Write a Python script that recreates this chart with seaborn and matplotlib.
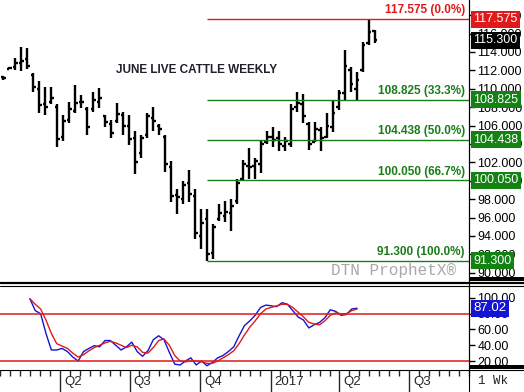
import numpy as np
import pandas as pd
import matplotlib.pyplot as plt
import matplotlib.dates as mdates
from matplotlib.lines import Line2D
from matplotlib.patches import Rectangle
import seaborn as sns

# weekly bars, June live cattle
week_start = "2016-02-15"
highs = [111.4, 112.4, 113.4, 114.5, 114.4, 111.7, 110.8, 110.2, 110.2, 108.3,
         107.2, 108.6, 110.4, 109.3, 108.0, 109.6, 110.1, 107.2, 106.6, 108.5,
         107.5, 107.2, 105.4, 105.0, 107.4, 108.0, 106.2, 105.0, 102.1, 99.1,
         100.0, 101.2, 99.1, 96.9, 96.9, 95.3, 97.5, 97.8, 98.0, 100.2,
         102.3, 103.6, 102.5, 104.3, 105.4, 105.8, 105.4, 104.8, 108.3, 109.7,
         109.4, 106.4, 106.4, 105.8, 107.4, 108.8, 109.9, 114.2, 112.4, 111.8,
         115.1, 117.575, 116.4]
lows = [111.0, 112.1, 112.0, 111.9, 112.2, 109.6, 107.4, 107.2, 108.4, 103.7,
        104.3, 106.3, 107.4, 107.9, 105.0, 107.5, 107.9, 105.9, 104.7, 106.3,
        105.0, 103.9, 100.7, 102.5, 104.7, 105.4, 105.0, 101.0, 97.7, 96.4,
        97.5, 97.7, 93.7, 92.6, 91.3, 91.5, 95.6, 95.5, 94.5, 97.5,
        100.0, 100.2, 100.2, 100.9, 104.0, 103.7, 103.2, 103.2, 103.7, 107.5,
        106.3, 103.4, 104.2, 103.2, 104.7, 105.3, 107.7, 108.8, 109.6, 108.8,
        111.8, 114.8, 115.0]
opens = [111.3, 112.2, 112.4, 112.8, 113.2, 111.5, 110.0, 108.4, 108.6, 108.0,
         104.8, 106.6, 107.6, 108.6, 107.8, 107.8, 108.6, 107.0, 106.2, 106.5,
         107.2, 106.0, 104.6, 103.0, 105.0, 106.8, 106.0, 104.8, 101.5, 98.5,
         98.0, 99.8, 98.4, 94.0, 95.8, 92.2, 95.8, 96.2, 96.5, 97.8,
         100.2, 101.6, 101.6, 101.8, 104.2, 104.8, 104.6, 103.8, 104.0, 108.0,
         108.4, 106.2, 104.2, 105.5, 104.8, 105.8, 108.0, 109.5, 112.0, 110.0,
         112.0, 115.0, 116.3]
closes = [111.2, 112.3, 112.8, 113.0, 112.5, 110.2, 108.2, 108.0, 109.0, 104.5,
          106.5, 107.8, 108.5, 108.6, 105.8, 108.8, 109.0, 106.4, 105.2, 107.3,
          106.0, 104.5, 102.0, 104.6, 107.0, 106.5, 105.6, 101.8, 98.4, 98.2,
          99.5, 98.6, 94.3, 95.4, 92.0, 95.0, 96.5, 96.6, 97.3, 99.8,
          101.8, 101.5, 102.2, 104.0, 104.8, 104.4, 104.0, 104.3, 107.8, 108.5,
          107.0, 104.0, 105.6, 104.6, 106.0, 107.4, 109.5, 112.5, 110.5, 111.0,
          114.8, 116.2, 115.3]

# stochastic %K (blue) and %D (red), first week has none
stoch_k = [np.nan, 99, 84, 80, 55, 34, 34, 36, 32, 25,
           20, 32, 36, 39.5, 38, 46, 46, 40, 34, 38,
           44, 32, 26, 33, 47, 52, 47, 31, 16, 15,
           20, 24, 15, 20, 14, 18, 24, 27, 32, 38,
           52, 65, 71, 78, 88, 91, 90, 89, 94, 92,
           84, 76, 72, 62, 66, 69, 75, 85, 83, 78,
           79, 86, 87.02]
stoch_d = [np.nan, 99, 92, 86, 72, 55, 42, 39, 36, 30,
           25, 28, 33, 37, 40, 43, 45, 43, 40, 37,
           40, 38, 31, 30, 37, 46, 48, 40, 27, 20,
           19, 20, 20, 19, 17, 17, 20, 24, 28, 33,
           42, 53, 63, 71, 80, 86, 88, 90, 92, 92,
           88, 82, 76, 69, 67, 66, 71, 78, 81, 80,
           80, 84, 86]

fib_levels = [117.575, 108.825, 104.438, 100.050, 91.300]
fib_pcts = ["0.0%", "33.3%", "50.0%", "66.7%", "100.0%"]
last_close = 115.300
last_stoch = 87.02

quarter_dates = ["2016-04-01", "2016-07-01", "2016-10-01", "2017-01-01", "2017-04-01", "2017-07-01"]
quarter_labels = ["Q2", "Q3", "Q4", "2017", "Q2", "Q3"]

sns.set_style("white")
plt.rcParams['font.family'] = ['Liberation Sans', 'DejaVu Sans']

RED = "#e01a1a"
GREEN = "#1a7d1a"
BOX_GREEN = "#138213"
BLUE = "#1414d2"

W, H = 524, 392
fig = plt.figure(figsize=(W / 100, H / 100), dpi=100)
ax1 = fig.add_axes([0, 1 - 282 / H, 469 / W, 282 / H])
ax2 = fig.add_axes([0, 1 - 370 / H, 469 / W, 84 / H])

dates = pd.date_range(week_start, periods=len(highs), freq="7D")
x = mdates.date2num(dates)
x_left = mdates.date2num(pd.Timestamp("2016-02-11"))
x_right = mdates.date2num(pd.Timestamp("2017-08-12"))

# ---- price panel
ax1.vlines(x, lows, highs, color="black", lw=1.7)
ax1.hlines(opens, x - 3, x, color="black", lw=1.7)
ax1.hlines(closes, x, x + 3, color="black", lw=1.7)

low_x = x[int(np.argmin(lows))]
fib_cols = [RED] + [GREEN] * 4
box_cols = [RED] + [BOX_GREEN] * 4
ax1.hlines(fib_levels, low_x, x_right, colors=fib_cols, lw=1)
for lvl, pct, c, bc in zip(fib_levels, fib_pcts, fib_cols, box_cols):
    ax1.annotate("%.3f (%s)" % (lvl, pct), xy=(1, lvl), xycoords=("axes fraction", "data"),
                 xytext=(-3, 2), textcoords="offset points", ha="right", va="bottom",
                 color=c, fontsize=8.5, fontweight="bold", zorder=6)
    ax1.annotate("%.3f" % lvl, xy=(1, lvl), xycoords=("axes fraction", "data"),
                 xytext=(3, 0), textcoords="offset points", ha="left", va="center",
                 color="white", fontsize=9, annotation_clip=False, zorder=6,
                 bbox=dict(boxstyle="square,pad=0.2", fc=bc, ec="none"))
ax1.annotate("%.3f" % last_close, xy=(1, last_close), xycoords=("axes fraction", "data"),
             xytext=(3, 0), textcoords="offset points", ha="left", va="center",
             color="white", fontsize=9, annotation_clip=False, zorder=6,
             bbox=dict(boxstyle="square,pad=0.2", fc="black", ec="none"))

ax1.text(0.247, 0.752, "JUNE LIVE CATTLE WEEKLY", transform=ax1.transAxes,
         fontsize=8.5, fontweight="bold", color="#20202c", va="center")
ax1.text(0.972, 0.04, "DTN ProphetX\u00ae", transform=ax1.transAxes, ha="right", va="center",
         fontsize=11.5, family="Liberation Mono", color="#a8a8a8")

ax1.set_xlim(x_left, x_right)
ax1.set_ylim(89.0, 119.65)
ax1.set_yticks(np.arange(90, 119, 2))
ax1.yaxis.set_major_formatter(plt.FormatStrFormatter("%.3f"))
ax1.yaxis.tick_right()
ax1.tick_params(axis="y", direction="out", length=4, width=1, pad=2, labelsize=9, colors="black")
ax1.set_xticks([])
for s in ["top", "left", "bottom"]:
    ax1.spines[s].set_visible(False)
ax1.spines["right"].set_color("black")

# ---- stochastic panel
sns.lineplot(x=x, y=stoch_k, ax=ax2, color=BLUE, lw=1)
sns.lineplot(x=x, y=stoch_d, ax=ax2, color=RED, lw=1)
ax2.axhline(80, color=RED, lw=1.1)
ax2.axhline(20, color=RED, lw=1.1)
ax2.annotate("%.2f" % last_stoch, xy=(1, last_stoch), xycoords=("axes fraction", "data"),
             xytext=(3, 0), textcoords="offset points", ha="left", va="center",
             color="white", fontsize=9.5, annotation_clip=False, zorder=6,
             bbox=dict(boxstyle="square,pad=0.2", fc=BLUE, ec="none"))

ax2.set_xlim(x_left, x_right)
ax2.set_ylim(8.6, 115.2)
ax2.set_yticks([20, 40, 60, 80, 100])
ax2.yaxis.set_major_formatter(plt.FormatStrFormatter("%.2f"))
ax2.yaxis.tick_right()
ax2.tick_params(axis="y", direction="out", length=4, width=1, pad=2, labelsize=9, colors="black")

q_x = mdates.date2num(pd.to_datetime(quarter_dates))
minor = []
for q in mdates.date2num(pd.to_datetime(["2016-01-01"] + quarter_dates)):
    minor += [q + 13 * k for k in range(1, 7)]
ax2.set_xticks(q_x)
ax2.set_xticklabels([])
ax2.set_xticks(minor, minor=True)
ax2.tick_params(axis="x", which="major", direction="out", length=17, width=1, bottom=True)
ax2.tick_params(axis="x", which="minor", direction="out", length=4, width=1, bottom=True)
for qx, lab in zip(q_x, quarter_labels):
    ax2.annotate(lab, xy=(qx, 0), xycoords=("data", "axes fraction"), xytext=(3, -4),
                 textcoords="offset points", ha="left", va="top", fontsize=9.5,
                 annotation_clip=False)
ax2.set_xlabel("")
ax2.set_ylabel("")
for s in ["top", "left", "bottom"]:
    ax2.spines[s].set_visible(False)
ax2.spines["right"].set_color("black")

# frame pieces of the chart window
def fy(py):
    return 1 - py / H

fig.add_artist(Line2D([0, 1], [fy(282.5), fy(282.5)], color="black", lw=1.6))
fig.add_artist(Line2D([0, 1], [fy(286), fy(286)], color="black", lw=0.8))
fig.add_artist(Line2D([0, 1], [fy(370), fy(370)], color="black", lw=0.8))
fig.add_artist(Line2D([469 / W, 469 / W], [0, 1], color="black", lw=0.8))
fig.add_artist(Rectangle((469 / W, fy(281)), 55 / W, 4 / H, color="black", lw=0))
fig.add_artist(Rectangle((469 / W, fy(369)), 55 / W, 4 / H, color="black", lw=0))
fig.text(493 / W, fy(381), "1 Wk", ha="center", va="center", fontsize=9, family="Liberation Mono")

fig.savefig("out.png", dpi=100, facecolor="white")
